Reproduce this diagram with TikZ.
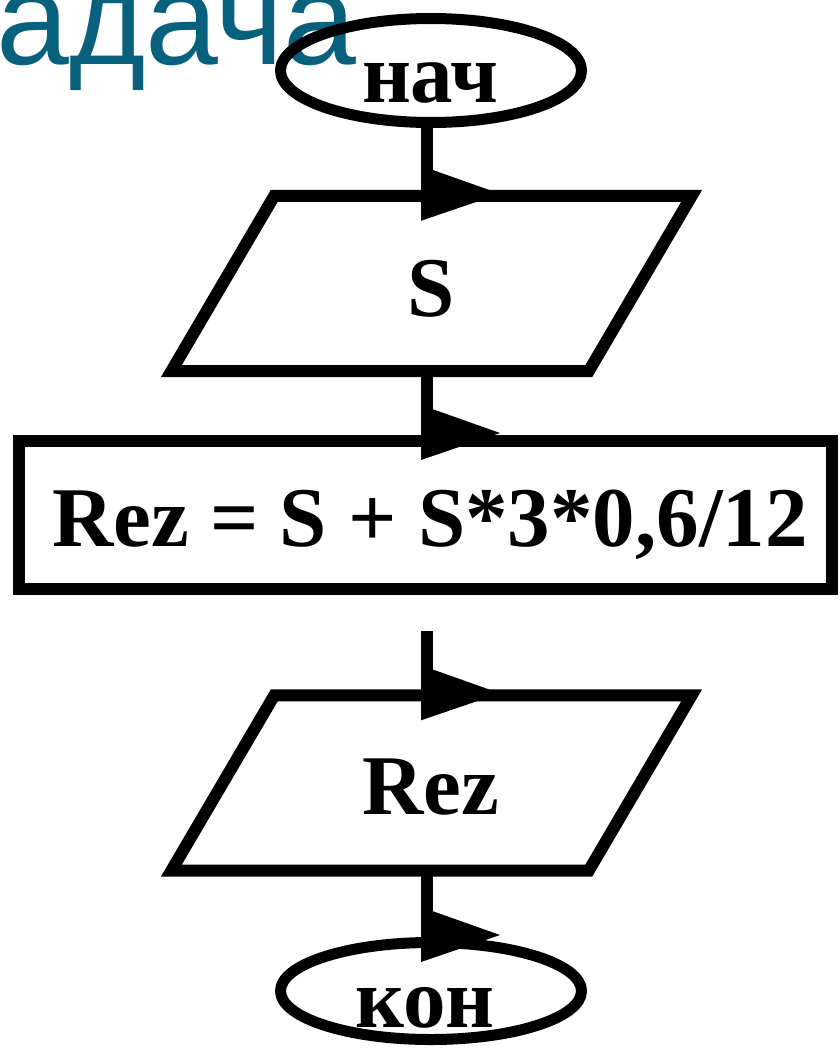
\documentclass[tikz,border=0pt]{standalone}
\usepackage{fontspec}
\setmainfont{Liberation Serif}
\newfontfamily\titlefont{Liberation Sans}
\usetikzlibrary{shapes.geometric,calc}
\definecolor{titleblue}{RGB}{7,97,124}
\newcommand{\flowto}[2]{%
  \draw[conn] (#1) -- ($(#2)+(0,-24)$);
  \fill ($(#2)+(-6,-30)$) -- ($(#2)+(-6,25)$) -- ($(#2)+(73,-2)$) -- cycle;
}
\begin{document}
\begin{tikzpicture}[x=1pt,y=-1pt,
  lbl/.style={font=\fontsize{85}{85}\selectfont\bfseries, inner sep=0pt, anchor=base},
  term/.style={ellipse, draw, line width=11pt, inner sep=0pt},
  procbox/.style={rectangle, draw, line width=12pt, inner sep=0pt, minimum width=813pt, minimum height=148pt},
  iobox/.style={rectangle, inner sep=0pt, minimum width=520pt, minimum height=175pt},
  ioline/.style={line width=12pt, line join=miter},
  conn/.style={line width=12pt}
]
\useasboundingbox (0,0) rectangle (840,1057);
\fill[white] (0,0) rectangle (840,1057);
\coordinate (axis) at (427,0);

\node[anchor=base east, text=titleblue, inner sep=0pt,
      font=\titlefont\fontsize{131}{131}\selectfont] (title) at (357,65) {адача};

% shapes
\node[term, minimum width=301pt, minimum height=104pt] (nach) at (431,70.5) {};
\node[iobox] (par1) at (431.5,283.5) {};
\draw[ioline] (par1.south west) -- ($(par1.north west)+(103,0)$) -- (par1.north east)
  -- ($(par1.south east)+(-103,0)$) -- cycle;
\node[procbox] (rez) at (425.5,515) {};
\node[iobox] (par2) at (431.5,783) {};
\draw[ioline] (par2.south west) -- ($(par2.north west)+(103,0)$) -- (par2.north east)
  -- ($(par2.south east)+(-103,0)$) -- cycle;
\node[term, minimum width=301pt, minimum height=97pt] (kon) at (431,991) {};

% labels
\node[lbl] (tnach) at (430,102) {нач};
\node[lbl] (ts) at (431,316) {S};
\node[lbl] (trez) at (430,546) {Rez = S + S*3*0,6/12};
\node[lbl] (tout) at (431,814) {Rez};
\node[lbl] (tkon) at (425,1027) {кон};

% connectors
\flowto{nach.south -| axis}{par1.north -| axis}
\flowto{par1.south -| axis}{rez.north -| axis}
\flowto{$(rez.south -| axis)+(0,36)$}{par2.north -| axis}
\flowto{par2.south -| axis}{kon.north -| axis}
\end{tikzpicture}
\end{document}
